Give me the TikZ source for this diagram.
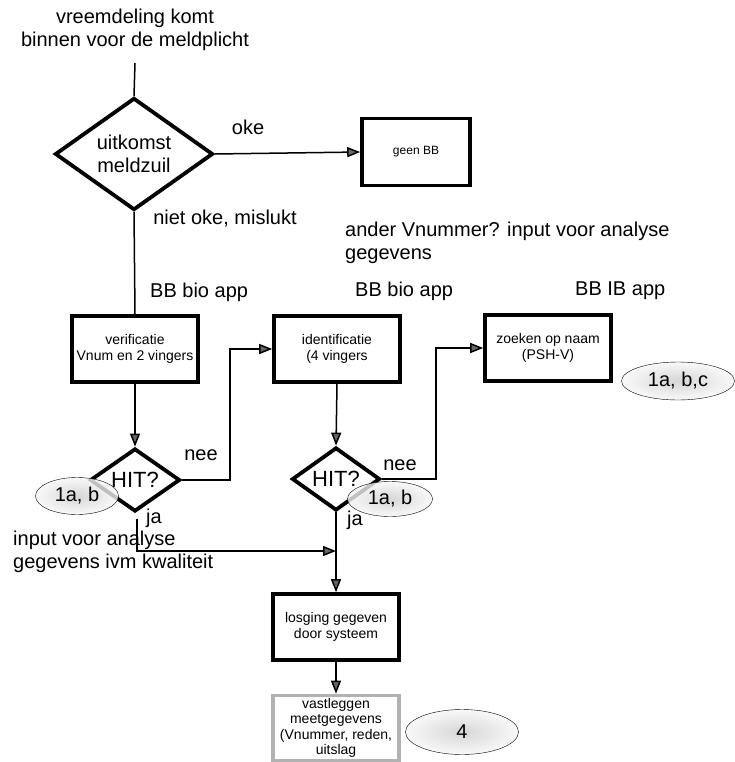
\documentclass[tikz,border=0pt]{standalone}
\usepackage{fontspec}
\setmainfont{Liberation Sans}
\usetikzlibrary{shapes.geometric,arrows.meta}

\begin{document}
\begin{tikzpicture}[x=1pt,y=-1pt]
    \tikzstyle{stap} = [rectangle, draw, line width=3.6pt, fill=white, align=center, inner sep=0pt, minimum width=126pt, minimum height=66pt, font=\fontsize{14}{16.5}\selectfont]
    \tikzstyle{keuze} = [diamond, draw, line width=3.8pt, fill=white, align=center, inner sep=0pt]
    \tikzstyle{tekst} = [align=left, inner sep=0pt, font=\fontsize{20}{23}\selectfont]
    \tikzstyle{verwijs} = [ellipse, draw, thin, shade, inner color=gray!40, outer color=gray!6, fill opacity=0.8, text opacity=1, inner sep=0pt, font=\fontsize{20}{23}\selectfont]
    \tikzstyle{lijn} = [line width=1.5pt]
    \tikzstyle{pijl} = [lijn, -{Triangle[length=13pt,width=10pt,fill=black!60]}]

    \useasboundingbox (0,0) rectangle (735,762);

    % Start
    \node[tekst, align=center] (start) at (135,30) {vreemdeling komt\\binnen voor de meldplicht};
    \node[keuze, minimum width=158pt, minimum height=107pt, font=\fontsize{20}{23}\selectfont] (meld) at (134,154) {uitkomst\\meldzuil};
    \node[stap, minimum width=108pt, minimum height=67pt, font=\fontsize{12}{14}\selectfont] (geen) at (416,152) {geen BB};

    % Boxes
    \node[stap] (verif) at (135,349) {verificatie\\Vnum en 2 vingers};
    \node[stap] (ident) at (337,349) {identificatie\\(4 vingers};
    \node[stap] (zoek) at (548,348) {zoeken op naam\\(PSH-V)};
    \node[stap] (los) at (336,627) {losging gegeven\\door systeem};
    \node[stap, draw=gray!60, minimum height=65pt, font=\fontsize{14}{15.5}\selectfont] (vast) at (336,728) {vastleggen\\meetgegevens\\(Vnummer, reden,\\uitslag};

    % HIT?
    \node[keuze, minimum width=90pt, minimum height=54pt, font=\fontsize{22}{24}\selectfont] (hit1) at (135,480) {HIT?};
    \node[keuze, minimum width=88pt, minimum height=52pt, font=\fontsize{22}{24}\selectfont] (hit2) at (336,479) {HIT?};
    \coordinate (jaeind) at (336,551);

    % Connectors
    \draw[lijn] (start.south) ++(0,12) -- (meld.north);
    \draw[pijl] (meld.east) -- (geen.west);
    \draw[lijn] (meld.south) -- (verif.north);
    \draw[pijl] (verif.south) -- (hit1.north);
    \draw[pijl] (hit1.east) -- ++(48,0) |- (ident.west);
    \draw[pijl] (ident.south) -- (hit2.north);
    \draw[pijl] (hit2.east) -- ++(54,0) |- (zoek.west);
    \draw[pijl] (hit2.south) -- (los.north);
    \draw[pijl] (los.south) -- (vast.north);
    \draw[pijl] ([shift={(2,6)}]hit1.south) |- (jaeind);

    % Labels
    \node[tekst] (oke) at (248,127) {oke};
    \node[tekst] (nietoke) at (225,219) {niet oke, mislukt};
    \node[tekst, anchor=west] (ander) at (345,243) {ander Vnummer? input voor analyse\\gegevens};
    \node[tekst, anchor=west] (app1) at (150,292) {BB bio app};
    \node[tekst, anchor=west] (app2) at (355,291) {BB bio app};
    \node[tekst, anchor=west] (app3) at (575,291) {BB IB app};
    \node[tekst] (nee1) at (201,455) {nee};
    \node[tekst] (nee2) at (400,465) {nee};
    \node[tekst, anchor=west] (input) at (13,552) {input voor analyse\\gegevens ivm kwaliteit};

    % Verwijzingen
    \node[verwijs, minimum width=83pt, minimum height=37pt] (ref1) at (77,496) {1a, b};
    \node[verwijs, minimum width=85pt, minimum height=35pt] (ref2) at (390,499) {1a, b};
    \node[verwijs, minimum width=113pt, minimum height=38pt] (ref3) at (678,381) {1a, b,c};
    \node[verwijs, minimum width=113pt, minimum height=45pt] (ref4) at (462,732) {4};
    \node[tekst] (ja1) at (154,518) {ja};
    \node[tekst] (ja2) at (355,520) {ja};

\end{tikzpicture}
\end{document}
